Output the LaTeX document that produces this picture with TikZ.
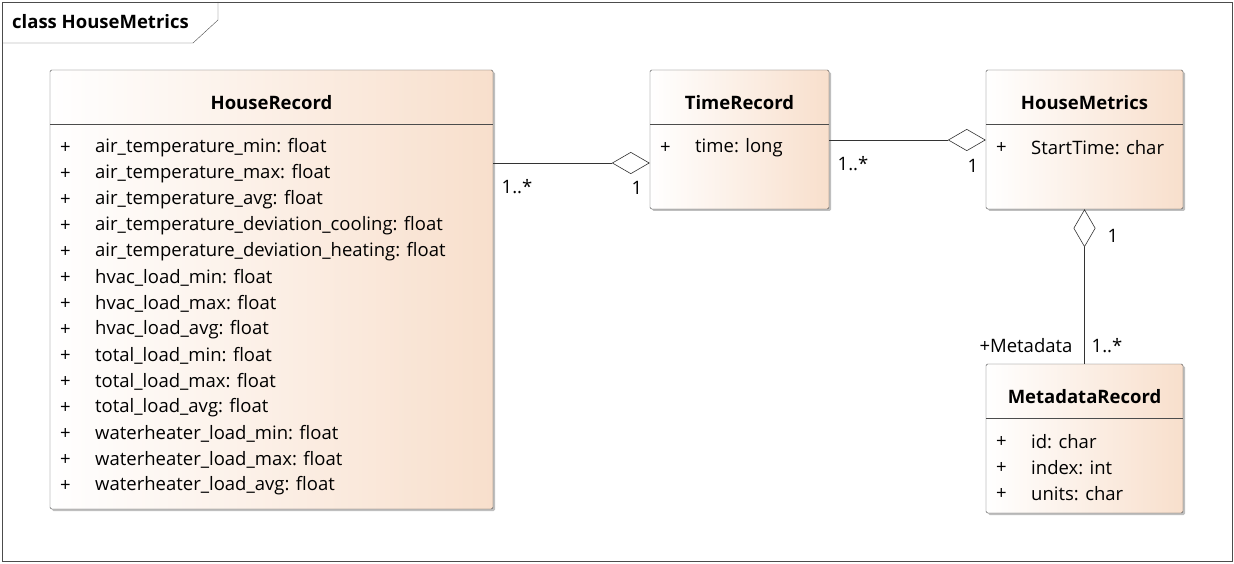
\documentclass[tikz,border=0pt]{standalone}
\usepackage{fontspec}
\setmainfont{Open Sans}
\usetikzlibrary{arrows.meta,shadows}
\tikzset{
 cls/.style={draw=black!70,rounded corners=1.5pt,left color=white,right color=peach,
   shading angle=90,inner sep=0pt,drop shadow={shadow xshift=2pt,shadow yshift=-2pt,fill=black!25,opacity=1}},
 ttl/.style={font=\fontsize{18.5}{22}\selectfont\bfseries,anchor=center},
 att/.style={font=\fontsize{18.5}{22}\selectfont,anchor=west,inner sep=0pt},
 mul/.style={font=\fontsize{18.5}{22}\selectfont,inner sep=0pt},
 agg/.style={draw=black!80,line width=0.6pt,{Diamond[fill=white,length=38pt,width=22pt]}-}
}
\definecolor{peach}{HTML}{F8DFCC}
\newcommand{\attrs}[4]{% x, y start, list
 \foreach \t [count=\i from 0] in {#3} {
  \node[att] at (#1+10,#2+\i*26) {+};
  \node[att] at (#1+45,#2+\i*26) {\t};}}
\begin{document}
\begin{tikzpicture}[x=1pt,y=-1pt]
\useasboundingbox (0,0) rectangle (1234,564);
\draw[black!70] (2,2) rectangle (1232,561);
\draw[black!70] (2,43) -- (193,43) -- (218,20) -- (218,2);
\node[att,font=\fontsize{18.5}{22}\selectfont\bfseries] at (12,22) {class HouseMetrics};
% boxes
\node[cls,minimum width=443pt,minimum height=439pt] (hr) at (271.5,289.5) {};
\node[cls,minimum width=179pt,minimum height=139pt] (tr) at (739.5,139.5) {};
\node[cls,minimum width=197pt,minimum height=139pt] (hm) at (1084.5,139.5) {};
\node[cls,minimum width=197pt,minimum height=149pt] (mr) at (1084.5,438.5) {};
\draw[black!70] (50,124) -- (493,124) (650,124) -- (829,124) (986,124) -- (1183,124) (986,418) -- (1183,418);
\node[ttl] at (271.5,103) {HouseRecord};
\node[ttl] at (739.5,103) {TimeRecord};
\node[ttl] at (1084.5,103) {HouseMetrics};
\node[ttl] at (1084.5,397) {MetadataRecord};
\attrs{50}{147.5}{air\_temperature\_min: float,air\_temperature\_max: float,air\_temperature\_avg: float,air\_temperature\_deviation\_cooling: float,air\_temperature\_deviation\_heating: float,hvac\_load\_min: float,hvac\_load\_max: float,hvac\_load\_avg: float,total\_load\_min: float,total\_load\_max: float,total\_load\_avg: float,waterheater\_load\_min: float,waterheater\_load\_max: float,waterheater\_load\_avg: float}{}
\attrs{650}{147.5}{time: long}{}
\attrs{986}{147.5}{StartTime: char}{}
\attrs{986}{441.5}{id: char,index: int,units: char}{}
% connectors
\draw[agg] (tr.west|-0,163) -- (hr.east|-0,163);
\draw[agg] (hm.west|-0,140) -- (tr.east|-0,140);
\draw[agg] (hm.south) -- (mr.north);
\node[mul] at (517,187) {1..*};
\node[mul] at (637,188) {1};
\node[mul] at (853,164) {1..*};
\node[mul] at (973,166) {1};
\node[mul] at (1113,236) {1};
\node[mul] at (1026,346) {+Metadata};
\node[mul] at (1107,346) {1..*};
\end{tikzpicture}
\end{document}
